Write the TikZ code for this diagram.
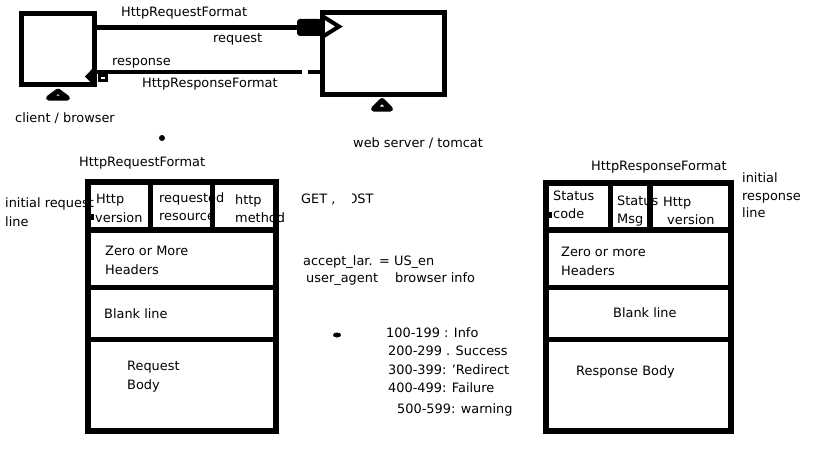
\documentclass[tikz,border=0pt]{standalone}
\usepackage{fontspec}
\setmainfont{DejaVu Sans}
\tikzset{
  txt/.style={anchor=base west, inner sep=0pt, font=\fontsize{12.9pt}{15pt}\selectfont},
  screen/.style={draw, line width=5pt, inner sep=0pt},
  fmt/.style={draw, line width=5.5pt, inner sep=0pt},
  sep/.style={line width=5.5pt},
  conn/.style={line width=5pt},
  stand/.style={draw, line width=5pt, line join=round, fill=white}
}
\begin{document}
\begin{tikzpicture}[x=1pt,y=-1pt]
\useasboundingbox (0,0) rectangle (819,460);
\fill[white] (0,0) rectangle (819,460);

% ---------- top: client and server ----------
\node[screen, minimum width=73pt, minimum height=70.5pt] (client) at (58,48.75) {};
\node[screen, minimum width=122pt, minimum height=82pt] (server) at (383.5,53.5) {};
\draw[stand] (58,91) -- (67.5,98) -- (48.5,98) -- cycle;
\draw[stand] (382,100.5) -- (390.5,109) -- (373.5,109) -- cycle;

\coordinate (reqy) at (0,28);
\coordinate (respy) at (0,72);
\coordinate (gapR) at (308,72);
\coordinate (gapL) at (302,72);
% request
\draw[conn] (client.east |- reqy) -- (server.west |- reqy);
\fill[rounded corners=3pt] (297,19) rectangle (322,36);
\draw[line width=4pt, line join=miter] (323,16.5) -- (339,26.5) -- (323,36.5);
% response
\draw[line width=4.5pt] (server.west |- respy) -- (gapR);
\draw[line width=4.5pt] (gapL) -- (client.east |- respy);
\draw[line width=3pt, fill=white] (99.5,75.5) rectangle (106.5,80.5);
\fill (85,76.5) -- (95,66) -- (95,87) -- cycle;

\node[txt] (lreqf) at (121,17) {HttpRequestFormat};
\node[txt] (lreq) at (213,43) {request};
\node[txt] (lresp) at (112,66) {response};
\node[txt] (lrespf) at (142,87) {HttpResponseFormat};
\node[txt] (lclient) at (15,122) {client / browser};
\node[txt] (lserver) at (353,147) {web server / tomcat};
\fill (162,138) circle (3pt);

% ---------- request format ----------
\node[txt] (treq) at (79,166) {HttpRequestFormat};
\node[txt] (tinit1) at (5,207) {initial request};
\node[txt] (tinit2) at (5,226) {line};
\node[txt] (c1a) at (96,203) {Http};
\node[txt] (c1b) at (95,222) {version};
\node[txt] (c2a) at (159,202) {requested};
\node[txt] (c2b) at (159,220) {resource};
\node[txt] (c3a) at (235,204) {http};
\node[txt] (c3b) at (235,222) {method};
\node[txt] (hq1) at (105,255) {Zero or More};
\node[txt] (hq2) at (105,274) {Headers};
\node[txt] (bq) at (104,318) {Blank line};
\node[txt] (rb1) at (127,370) {Request};
\node[txt] (rb2) at (127,389) {Body};

\node[fmt, minimum width=188pt, minimum height=249pt] (reqbox) at (182,306.5) {};
\coordinate (r1) at (0,230);
\coordinate (r2) at (0,287.5);
\coordinate (r3) at (0,339.5);
\draw[sep] (reqbox.west |- r1) -- (reqbox.east |- r1);
\draw[sep] (reqbox.west |- r2) -- (reqbox.east |- r2);
\draw[sep] (reqbox.west |- r3) -- (reqbox.east |- r3);
\draw[sep] (150.5,182) -- (150.5,230);
\draw[sep] (212.5,182) -- (212.5,230);
\fill (88,214) rectangle (93.5,220);

% ---------- notes ----------
\node[txt] (getpost) at (301,203) {GET , POST};
\fill[white] (338.5,190) rectangle (352.2,206);
\node[txt] (acc1) at (303,265) {accept\_lar.};
\node[txt] (acc2) at (379,265) {= US\_en};
\node[txt] (ua1) at (306,282) {user\_agent};
\node[txt] (ua2) at (395,282) {browser info};
\fill (337,335) ellipse (4pt and 2.5pt);
\node[txt] (s1) at (386,337) {100-199 : Info};
\node[txt] (s2) at (388,355) {200-299 . Success};
\node[txt] (s3) at (388,374) {300-399: 'Redirect};
\node[txt] (s4) at (388,392) {400-499: Failure};
\node[txt] (s5) at (397,413) {500-599: warning};

% ---------- response format ----------
\node[txt] (tresp) at (591,170) {HttpResponseFormat};
\node[txt] (ri1) at (742,182) {initial};
\node[txt] (ri2) at (742,200) {response};
\node[txt] (ri3) at (742,217) {line};
\node[txt] (d1a) at (553,200) {Status};
\node[txt] (d1b) at (553,218) {code};
\node[txt] (d2a) at (617,205) {Status};
\node[txt] (d2b) at (617,223) {Msg};
\node[txt] (d3a) at (663,206) {Http};
\node[txt] (d3b) at (667,224) {version};
\node[txt] (hs1) at (561,256) {Zero or more};
\node[txt] (hs2) at (561,275) {Headers};
\node[txt] (bs) at (613,317) {Blank line};
\node[txt] (rsb) at (576,375) {Response Body};

\node[fmt, minimum width=185pt, minimum height=248pt] (respbox) at (638.5,307) {};
\draw[sep] (respbox.west |- r1) -- (respbox.east |- r1);
\draw[sep] (respbox.west |- r2) -- (respbox.east |- r2);
\draw[sep] (respbox.west |- r3) -- (respbox.east |- r3);
\draw[sep] (610.5,183) rectangle (650,230.5);
\fill (546,212) rectangle (551.5,218);
\end{tikzpicture}
\end{document}
